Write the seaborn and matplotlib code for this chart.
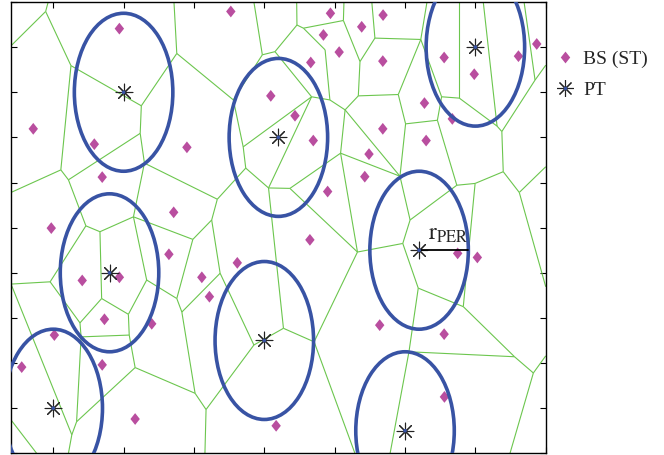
import matplotlib
matplotlib.use("Agg")
import matplotlib.pyplot as plt
from matplotlib.collections import LineCollection
from matplotlib.patches import Circle
from matplotlib.lines import Line2D
import pandas as pd
import seaborn as sns

# Small-cell base stations (BS / ST)
bs_x = [485, 179, 396, 725, 424, 678, 243, 881, 1023, 1235, 1422, 1346, 1210, 1266,
        1165, 1421, 1639, 1746, 1903, 1968, 1109, 1174, 1569, 1668, 1421, 1575, 1372,
        1357, 1225, 661, 904, 353, 485, 778, 805, 432, 600, 254, 138, 424, 541, 1042,
        1162, 1687, 1757, 1410, 1639, 1640]
bs_y = [941, 719, 685, 678, 612, 534, 499, 979, 792, 975, 971, 945, 927, 889,
        866, 869, 877, 840, 880, 907, 748, 693, 776, 741, 719, 693, 663,
        613, 580, 441, 422, 383, 390, 390, 347, 297, 287, 262, 191, 196, 76, 61,
        473, 443, 434, 284, 264, 125]

# Primary transmitters (PT) and their protection radius
pt_x = [500, 1050, 1750, 450, 250, 1000, 1550, 1500]
pt_y = [800, 700, 900, 400, 100, 250, 450, 50]
r_per = 175

# Tessellation vertices (names, x, y) and the edges joining them
node_names = ["V1", "T1", "L1", "V2", "V3", "V4", "L4", "V5", "T5", "V6", "V7", "V8",
              "V9", "V10", "V35", "V11", "V12", "V13", "V14", "V15", "V16", "V22",
              "V17", "V18", "V19", "V20", "V21", "B21", "L2", "B2", "V32", "V33",
              "V34", "V24", "V31", "V30", "V26", "B26", "V25", "V27", "V28", "B28",
              "V29", "V36", "T36", "V37", "V38", "V39", "V41", "V40", "V42", "V43",
              "V44", "V45", "V46", "V48", "V52", "T52", "V52b", "V53", "T53", "V54",
              "V56", "T56", "V55", "V51", "V57", "T57", "V58", "V49", "V59", "V60",
              "V61", "T61", "V62a", "T62", "V62b", "V74", "T74", "R74", "V63", "V67",
              "V65", "V64", "V66", "R66a", "R66b", "V68", "V69", "V70", "V71", "B71",
              "V72", "V73", "R73", "B73"]
node_x = [223, 232, 100, 313, 563, 277, 100, 689, 679, 559, 304, 574,
          535, 366, 416, 582, 517, 689, 422, 345, 239, 100,
          349, 520, 333, 541, 316, 304, 100, 191, 746, 813,
          833, 843, 707, 754, 793, 789, 963, 1068, 1177, 1322,
          1331, 993, 963, 1038, 890, 925, 934, 1168, 1015, 1091,
          1271, 1287, 1233, 1216, 1116, 1115, 1139, 1281, 1283, 1340,
          1393, 1382, 1334, 1476, 1556, 1578, 1502, 1482, 1615, 1630,
          1693, 1693, 1827, 1778, 1844, 1962, 1923, 2000, 1684, 1518,
          1749, 1849, 1906, 2000, 2000, 1492, 1547, 1707, 1514, 1447,
          1889, 1956, 2000, 1873]
node_y = [979, 1000, 903, 859, 770, 628, 578, 886, 1000, 709, 606, 643,
          524, 504, 491, 384, 308, 343, 343, 289, 380, 375,
          258, 262, 70, 190, 41, 0, 74, 0, 474, 517,
          563, 399, 313, 133, 97, 0, 240, 277, 247, 0,
          446, 883, 1000, 890, 783, 679, 632, 790, 588, 587,
          665, 761, 783, 894, 949, 1000, 942, 959, 1000, 868,
          920, 1000, 792, 795, 917, 1000, 730, 614, 738, 790,
          787, 1000, 725, 1000, 713, 827, 1000, 860, 594, 517,
          598, 624, 578, 635, 369, 465, 366, 325, 225, 0,
          214, 178, 216, 0]
edges = [("V1", "T1"), ("V1", "L1"), ("V1", "V2"), ("V2", "V3"), ("V2", "V4"),
         ("V3", "V5"), ("V3", "V6"), ("V5", "T5"), ("V5", "V38"), ("V6", "V7"),
         ("V6", "V8"), ("V4", "L4"), ("V4", "V7"), ("V7", "V10"), ("V8", "V9"),
         ("V8", "V34"), ("V9", "V35"), ("V9", "V11"), ("V9", "V32"), ("V10", "V35"),
         ("V10", "V16"), ("V35", "V14"), ("V11", "V12"), ("V11", "V13"), ("V12", "V18"),
         ("V12", "V14"), ("V14", "V15"), ("V15", "V16"), ("V15", "V17"), ("V16", "V22"),
         ("V22", "V21"), ("V17", "V18"), ("V17", "V19"), ("V18", "V20"), ("V19", "V20"),
         ("V19", "V21"), ("V21", "B21"), ("L2", "B2"), ("V13", "V31"), ("V13", "V32"),
         ("V32", "V33"), ("V33", "V34"), ("V33", "V24"), ("V34", "V41"), ("V24", "V31"),
         ("V24", "V25"), ("V31", "V30"), ("V30", "V26"), ("V30", "V20"), ("V26", "V25"),
         ("V26", "B26"), ("V25", "V27"), ("V27", "V42"), ("V27", "V28"), ("V28", "V29"),
         ("V28", "B28"), ("V29", "V43"), ("V29", "V44"), ("V29", "V68"), ("V36", "T36"),
         ("V36", "V37"), ("V36", "V38"), ("V38", "V39"), ("V39", "V40"), ("V39", "V41"),
         ("V41", "V42"), ("V42", "V43"), ("V42", "V40"), ("V43", "V44"), ("V40", "V37"),
         ("V40", "V46"), ("V46", "V48"), ("V46", "V45"), ("V48", "V52b"), ("V52", "T52"),
         ("V52", "V37"), ("V52", "V52b"), ("V52b", "V53"), ("V53", "T53"), ("V53", "V54"),
         ("V54", "V56"), ("V54", "V55"), ("V56", "T56"), ("V56", "V57"), ("V55", "V45"),
         ("V55", "V51"), ("V45", "V44"), ("V45", "V49"), ("V44", "V49"), ("V51", "V57"),
         ("V51", "V58"), ("V57", "T57"), ("V57", "V60"), ("V58", "V59"), ("V58", "V49"),
         ("V49", "V67"), ("V59", "V60"), ("V59", "V63"), ("V60", "V61"), ("V61", "T61"),
         ("V61", "V62a"), ("V62a", "T62"), ("V62a", "V62b"), ("V62b", "V74"),
         ("V62b", "V64"), ("V74", "T74"), ("V74", "R74"), ("V63", "V67"), ("V63", "V65"),
         ("V65", "V64"), ("V65", "V70"), ("V64", "V66"), ("V66", "R66a"), ("V66", "R66b"),
         ("V67", "V68"), ("V68", "V69"), ("V69", "V70"), ("V69", "V71"), ("V70", "V72"),
         ("V71", "V72"), ("V71", "B71"), ("V72", "V73"), ("V73", "R73"), ("V73", "B73")]

x_ticks = [250, 500, 750, 1000, 1250, 1500, 1750, 2000]
y_ticks = [0, 100, 200, 300, 400, 500, 600, 700, 800, 900, 1000]

GREEN = "#6cc64e"
BLUE = "#3853a4"
MAGENTA = "#b94e9f"
STAR = "#222222"
DIAMOND = [(0, 1), (0.8, 0), (0, -1), (-0.8, 0), (0, 1)]

sns.set_theme(style="white")
plt.rcParams["font.family"] = ["Liberation Serif", "DejaVu Serif"]
plt.rcParams["mathtext.fontset"] = "stix"

fig = plt.figure(figsize=(6.64, 4.55), dpi=100)
ax = fig.add_axes([0.0166, 0.0037, 0.8053, 0.9919])

# cell boundaries
pos = {n: (x, y) for n, x, y in zip(node_names, node_x, node_y)}
segments = [[pos[a], pos[b]] for a, b in edges]
ax.add_collection(LineCollection(segments, colors=GREEN, linewidths=0.8, zorder=1))

bs = pd.DataFrame({"x": bs_x, "y": bs_y})
pt = pd.DataFrame({"x": pt_x, "y": pt_y})

sns.scatterplot(data=bs, x="x", y="y", marker=DIAMOND, s=72, color=MAGENTA,
                edgecolor="none", linewidth=0, ax=ax, zorder=3, legend=False)

# protection circles around each PT
for cx, cy in zip(pt_x, pt_y):
    ax.add_patch(Circle((cx, cy), r_per, fill=False, edgecolor=BLUE,
                        linewidth=2.6, zorder=4))

sns.scatterplot(data=pt, x="x", y="y", marker=(8, 2, 0), s=144, color=STAR,
                linewidth=0.8, ax=ax, zorder=5, legend=False)
sns.scatterplot(data=pt, x="x", y="y", marker="o", s=7, color=BLUE,
                edgecolor="none", ax=ax, zorder=6, legend=False)

# radius annotation
ax.plot([pt_x[6], pt_x[6] + r_per], [pt_y[6], pt_y[6]], color="black",
        linewidth=1.3, zorder=5)
ax.text(pt_x[6] + 33, pt_y[6] + 24, r"$\mathrm{r}_{\mathrm{PER}}$", fontsize=17,
        ha="left", va="baseline", zorder=7)

ax.set_xlim(100, 2000)
ax.set_ylim(0, 1000)
ax.set_xticks(x_ticks)
ax.set_yticks(y_ticks)
ax.set_xlabel("")
ax.set_ylabel("")
ax.tick_params(direction="in", length=4, width=0.8, colors="black",
               bottom=True, top=True, left=True, right=True,
               labelbottom=False, labelleft=False)
for sp in ax.spines.values():
    sp.set_color("black")
    sp.set_linewidth(1.0)

h_bs = Line2D([], [], marker=DIAMOND, linestyle="none", markersize=8.5,
              color=MAGENTA, markeredgecolor="none")
h_star = Line2D([], [], marker=(8, 2, 0), linestyle="none", markersize=12,
                color=STAR, markeredgewidth=0.8)
h_dot = Line2D([], [], marker="o", linestyle="none", markersize=2.6,
               color=BLUE, markeredgecolor="none")
fig.legend([h_bs, (h_star, h_dot)], ["BS (ST)", "PT"], loc="upper left",
           bbox_to_anchor=(555 / 664, 1 - 50 / 455), frameon=False, fontsize=14,
           handlelength=1.0, handletextpad=0.45, labelspacing=0.72,
           borderpad=0, borderaxespad=0)

fig.savefig("out.png", dpi=100)
